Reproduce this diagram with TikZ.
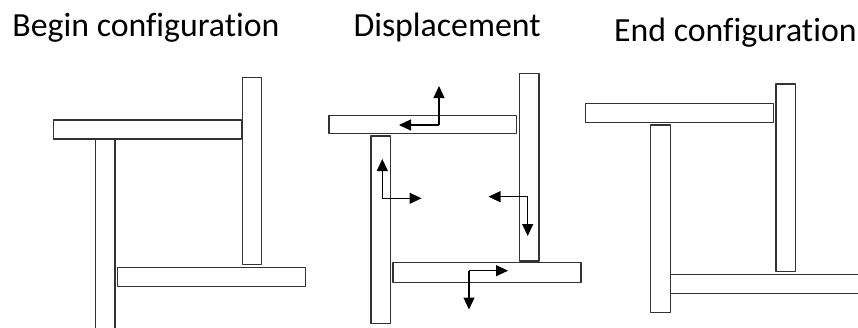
\documentclass[tikz,border=0pt]{standalone}
\usepackage{fontspec}
\setmainfont{Carlito}[Ligatures=CommonOff]
\usetikzlibrary{arrows.meta}
\begin{document}
\begin{tikzpicture}[x=1pt,y=-1pt,
  bar/.style={draw=black!80, line width=1.2pt, fill=white, line join=round},
  mv/.style={draw=black, line width=1.2pt, -{Triangle[length=12pt,width=11pt]}},
  title/.style={anchor=base west, inner sep=0pt, font=\fontsize{33.8}{40}\selectfont}]
\useasboundingbox (0,0) rectangle (858,327);
% titles
\node[title] (t1) at (12.3,36.7) {Begin configuration};
\node[title] (t2) at (353.3,36) {Displacement};
\node[title] (t3) at (614,41) {End configuration};
% ---- panel 1
\draw[bar] (95.7,330) -- (95.7,139.3) -- (115,139.3) -- (115,330);
\draw[bar] (53.3,120) rectangle (241.7,139);
\draw[bar] (242.3,77.3) rectangle (261.7,264.3);
\draw[bar] (117.3,267.3) rectangle (305.7,286.7);
% ---- panel 2
\draw[bar] (329,115.7) rectangle (516.7,133.3);
\draw[bar] (519.3,73.3) rectangle (539,261);
\draw[bar] (371,136) rectangle (390.7,323.3);
\draw[bar] (393,262.7) rectangle (581,282.3);
% displacement arrows
\coordinate (c1) at (439,125);
\coordinate (u1) at (439,86);
\coordinate (l1) at (399,125);
\draw[mv] (c1) -- (u1);
\draw[mv] (c1) -- (l1);
\coordinate (c2) at (382.3,198.3);
\coordinate (u2) at (382.3,159);
\coordinate (r2) at (421.5,198.3);
\draw[mv] (c2) -- (u2);
\draw[mv] (c2) -- (r2);
\coordinate (c3) at (527.7,196.7);
\coordinate (l3) at (488.5,196.7);
\coordinate (d3) at (527.7,236);
\draw[mv] (c3) -- (l3);
\draw[mv] (c3) -- (d3);
\coordinate (c4) at (469,270.7);
\coordinate (r4) at (508,270.7);
\coordinate (d4) at (469,309.5);
\draw[mv] (c4) -- (r4);
\draw[mv] (c4) -- (d4);
% ---- panel 3
\draw[bar] (585.7,103.3) rectangle (773.3,122.3);
\draw[bar] (776,84) rectangle (795.7,271.7);
\draw[bar] (650.7,125) rectangle (670.3,312.3);
\draw[bar] (862,274.3) -- (670.7,274.3) -- (670.7,293.3) -- (862,293.3);
\end{tikzpicture}
\end{document}
